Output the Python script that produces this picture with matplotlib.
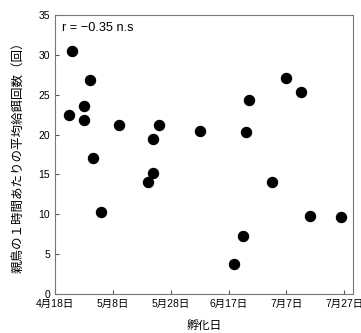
import pandas as pd
import matplotlib
matplotlib.use("Agg")
import matplotlib.pyplot as plt
import matplotlib.dates as mdates

plt.rcParams["font.family"] = ["Liberation Sans", "Noto Sans CJK JP"]

# hatch dates and mean feeding visits per hour
hatch_dates = ["4-23", "4-24", "4-28", "4-28", "4-30", "5-01", "5-04", "5-10",
               "5-20", "5-22", "5-22", "5-24", "6-07", "6-19", "6-22", "6-23",
               "6-24", "7-02", "7-07", "7-12", "7-15", "7-26"]
feeding = [22.5, 30.5, 23.6, 21.8, 26.8, 17.1, 10.3, 21.2,
           14.1, 15.2, 19.4, 21.2, 20.5, 3.8, 7.3, 20.3,
           24.3, 14.1, 27.1, 25.4, 9.8, 9.7]
tick_dates = ["4-18", "5-08", "5-28", "6-17", "7-07", "7-27"]

x = pd.to_datetime(["2015-" + d for d in hatch_dates])
ticks = pd.to_datetime(["2015-" + d for d in tick_dates])

fig = plt.figure(figsize=(3.61, 3.33), dpi=100)
ax = fig.add_axes([0.152, 0.117, 0.826, 0.838])
ax.scatter(x, feeding, s=52, color="black", zorder=3)

ax.set_xlim(pd.Timestamp("2015-04-18"), pd.Timestamp("2015-07-30"))
ax.set_ylim(0, 35)
ax.set_yticks(range(0, 36, 5))
ax.set_xticks(ticks)
ax.set_xticklabels([f"{t.month}月{t.day}日" for t in ticks])
ax.tick_params(direction="in", labelsize=7.5, length=3, color="#555555")
for s in ax.spines.values():
    s.set_color("#777777")

ax.text(0.025, 0.975, "r = \u22120.35 n.s", transform=ax.transAxes,
        ha="left", va="top", fontsize=9.2)
ax.set_xlabel("孵化日", fontsize=8.5, labelpad=8)
ax.set_ylabel("親鳥の１時間あたりの平均給餌回数（回）", fontsize=9, labelpad=10)

fig.savefig("out.png", dpi=100)
